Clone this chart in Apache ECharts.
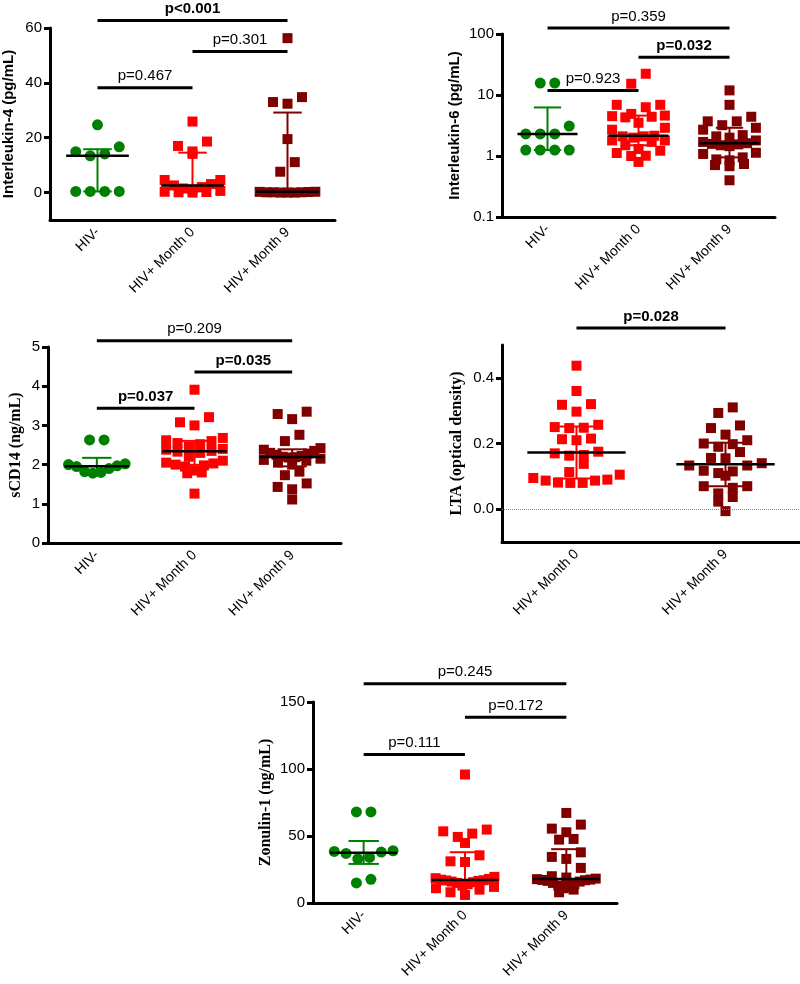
<!DOCTYPE html>
<html><head><meta charset="utf-8">
<script src="https://cdn.jsdelivr.net/npm/echarts@6/dist/echarts.min.js"></script>
<style>html,body{margin:0;padding:0;background:#fff}#c{width:800px;height:984px}</style>
</head><body><div id="c"></div>
<script>
// ---------- categories ----------
const groups3 = ['HIV-', 'HIV+ Month 0', 'HIV+ Month 9'];
const groups2 = ['HIV+ Month 0', 'HIV+ Month 9'];

// ---------- Interleukin-4 (pg/mL) ----------
const il4HivNeg = [24.7, 16.7, 13.4, 14.1, 14.9, 0.4, 0.4, 0.4, 0.4];
const il4Month0 = [25.9, 18.6, 17.0, 15.0, 14.1, 4.6, 4.6, 3.1, 2.6, 2.0, 1.5, 1.0, 0.6, 0.3, 0.2, 0.1, 0.0];
const il4Month9 = [56.3, 34.8, 33.0, 32.4, 19.5, 11.1, 7.6, 0.3, 0.25, 0.2, 0.1, 0.1, 0.1, 0.0, 0.0, 0.0];
const il4Ticks = [0, 20, 40, 60];
const il4Brackets = [[0, 2, 62.7, 'p<0.001', true], [1, 2, 51.4, 'p=0.301', false], [0, 1, 38.2, 'p=0.467', false]];

// ---------- Interleukin-6 (pg/mL) ----------
const il6HivNeg = [15.7, 15.7, 3.1, 2.3, 2.3, 2.3, 1.25, 1.25, 1.25, 1.25];
const il6Month0 = [22.3, 15.3, 6.9, 6.9, 6.3, 4.9, 4.6, 4.5, 4.4, 4.3, 3.5, 2.9, 2.7, 2.15, 2.1, 2.1, 2.0, 1.8, 1.8, 1.7, 1.5, 1.3, 1.22, 1.12, 1.01, 1.0, 0.8];
const il6Month9 = [11.9, 6.9, 4.4, 3.7, 3.7, 3.2, 2.9, 2.7, 2.2, 2.1, 2.0, 1.8, 1.7, 1.62, 1.58, 1.55, 1.5, 1.45, 1.13, 1.08, 0.95, 0.88, 0.85, 0.74, 0.71, 0.68, 0.40];
const il6Brackets = [[0, 2, 126, 'p=0.359', false], [1, 2, 41.5, 'p=0.032', true], [0, 1, 11.8, 'p=0.923', false]];

// ---------- sCD14 (ng/mL) ----------
const scdHivNeg = [2.63, 2.63, 2.02, 2.0, 1.97, 1.95, 1.9, 1.82, 1.8, 1.78];
const scdMonth0 = [3.91, 3.21, 3.08, 3.0, 2.68, 2.62, 2.6, 2.55, 2.52, 2.45, 2.4, 2.38, 2.35, 2.33, 2.3, 2.2, 2.1, 2.05, 2.03, 2.0, 1.98, 1.95, 1.85, 1.8, 1.78, 1.26];
const scdMonth9 = [3.35, 3.29, 3.16, 2.76, 2.6, 2.42, 2.38, 2.35, 2.3, 2.28, 2.25, 2.22, 2.2, 2.19, 2.18, 2.15, 2.12, 2.1, 2.05, 2.0, 1.82, 1.73, 1.52, 1.43, 1.37, 1.11];
const scdBrackets = [[0, 2, 5.16, 'p=0.209', false], [1, 2, 4.36, 'p=0.035', true], [0, 1, 3.44, 'p=0.037', true]];

// ---------- LTA (optical density) ----------
const ltaMonth0 = [0.437, 0.36, 0.32, 0.318, 0.297, 0.257, 0.25, 0.248, 0.247, 0.215, 0.213, 0.21, 0.175, 0.17, 0.165, 0.163, 0.138, 0.113, 0.105, 0.095, 0.09, 0.087, 0.087, 0.081, 0.08, 0.08];
const ltaMonth9 = [0.31, 0.293, 0.255, 0.247, 0.227, 0.21, 0.2, 0.198, 0.19, 0.174, 0.156, 0.155, 0.14, 0.133, 0.133, 0.117, 0.115, 0.11, 0.102, 0.07, 0.07, 0.065, 0.048, 0.037, 0.023, -0.006];
const ltaTicks = [0, 0.2, 0.4];
const ltaBrackets = [[0, 1, 0.5515, 'p=0.028', true]];

// ---------- Zonulin-1 (ng/mL) ----------
const zonHivNeg = [68, 68, 39, 38.5, 38, 37, 34, 33, 17.7, 15];
const zonMonth0 = [95.9, 54.8, 53.5, 51.8, 49.3, 44.8, 35.6, 31.1, 30.6, 19.5, 18.5, 18, 17.4, 17, 16.8, 16.5, 16, 15.5, 15, 14, 13, 12, 11, 10, 8, 6];
const zonMonth9 = [67.2, 58.5, 55.5, 52.8, 47.8, 47.3, 37.8, 34.4, 32.9, 26.2, 20, 19, 18.2, 17.8, 17.5, 17.2, 17, 16.5, 16, 15, 14, 13, 12, 11, 10, 8];
const zonBrackets = [[0, 2, 163.7, 'p=0.245', false], [1, 2, 138.7, 'p=0.172', false], [0, 1, 110.8, 'p=0.111', false]];

// ---------- styles ----------
const SANS = '"Liberation Sans", Arial, Helvetica, sans-serif';
const SERIF = '"Liberation Serif", "Times New Roman", serif';
const GREEN = '#008000', RED = '#ff0000', DARK = '#800000';

const panels = [
  { grid: {left: 47, top: 28, width: 288, height: 192}, cats: groups3, sets: [il4HivNeg, il4Month0, il4Month9],
    colors: [GREEN, RED, DARK], symbols: ['circle', 'rect', 'rect'],
    y: {type: 'value', min: -10, max: 60, custom: il4Ticks}, name: 'Interleukin-4 (pg/mL)', nameFont: SANS, nameSize: 15, nameGap: 34, brackets: il4Brackets },
  { grid: {left: 502, top: 34, width: 273, height: 183}, cats: groups3, sets: [il6HivNeg, il6Month0, il6Month9],
    colors: [GREEN, RED, DARK], symbols: ['circle', 'rect', 'rect'],
    y: {type: 'log', min: 0.1, max: 100}, name: 'Interleukin-6 (pg/mL)', nameFont: SANS, nameSize: 15, nameGap: 40, brackets: il6Brackets },
  { grid: {left: 48, top: 347, width: 293, height: 196}, cats: groups3, sets: [scdHivNeg, scdMonth0, scdMonth9],
    colors: [GREEN, RED, DARK], symbols: ['circle', 'rect', 'rect'],
    y: {type: 'value', min: 0, max: 5, interval: 1}, name: 'sCD14 (ng/mL)', nameFont: SERIF, nameSize: 16, nameGap: 24, brackets: scdBrackets },
  { grid: {left: 502, top: 345, width: 298, height: 197}, cats: groups2, sets: [ltaMonth0, ltaMonth9],
    colors: [RED, DARK], symbols: ['rect', 'rect'],
    y: {type: 'value', min: -0.1, max: 0.5, custom: ltaTicks, fmt: v => v.toFixed(1)}, name: 'LTA (optical density)', nameFont: SERIF, nameSize: 16, nameGap: 37, brackets: ltaBrackets, zeroLine: true },
  { grid: {left: 313, top: 702, width: 304, height: 201}, cats: groups3, sets: [zonHivNeg, zonMonth0, zonMonth9],
    colors: [GREEN, RED, DARK], symbols: ['circle', 'rect', 'rect'],
    y: {type: 'value', min: 0, max: 150, interval: 50}, name: 'Zonulin-1 (ng/mL)', nameFont: SERIF, nameSize: 16, nameGap: 39, brackets: zonBrackets }
];

function quant(sorted, p) {
  const n = sorted.length, pos = p * (n + 1);
  if (pos <= 1) return sorted[0];
  if (pos >= n) return sorted[n - 1];
  const lo = Math.floor(pos), f = pos - lo;
  return sorted[lo - 1] + f * (sorted[lo] - sorted[lo - 1]);
}

const chart = echarts.init(document.getElementById('c'), null, {renderer: 'canvas'});
const axisLineStyle = {color: '#000', width: 3};

const grids = [], xAxes = [], yAxes = [], series = [];
const scatterRefs = [];
panels.forEach((p, i) => {
  grids.push(Object.assign({containLabel: false}, p.grid));
  xAxes.push({
    gridIndex: i, type: 'category', data: p.cats, boundaryGap: true,
    axisLine: {onZero: false, lineStyle: axisLineStyle},
    axisTick: {alignWithLabel: true, length: 6, lineStyle: {color: '#000', width: 3}},
    axisLabel: {rotate: 45, interval: 0, fontSize: 14, color: '#000', fontFamily: SANS, margin: 10},
    splitLine: {show: false}
  });
  const ya = {
    gridIndex: i, type: p.y.type, min: p.y.min, max: p.y.max,
    name: p.name, nameLocation: 'middle', nameGap: p.nameGap,
    nameTextStyle: {fontFamily: p.nameFont, fontWeight: 'bold', fontSize: p.nameSize, color: '#000'},
    axisLine: {show: true, onZero: false, lineStyle: axisLineStyle},
    axisTick: {show: true, length: 6, lineStyle: {color: '#000', width: 3}},
    axisLabel: {fontSize: 15, color: '#000', fontFamily: SANS, margin: 8},
    splitLine: {show: false}
  };
  if (p.y.type === 'log') ya.logBase = 10;
  if (p.y.interval) ya.interval = p.y.interval;
  if (p.y.custom) { ya.axisTick.customValues = p.y.custom; ya.axisLabel.customValues = p.y.custom; }
  if (p.y.fmt) ya.axisLabel.formatter = p.y.fmt;
  yAxes.push(ya);

  scatterRefs[i] = [];
  p.sets.forEach((vals, g) => {
    const s = {
      type: 'scatter', xAxisIndex: i, yAxisIndex: i, silent: true, z: 2,
      symbol: p.symbols[g], symbolSize: p.symbols[g] === 'circle' ? 11 : 10,
      itemStyle: {color: p.colors[g], opacity: 1},
      data: vals.map(v => [g, v])
    };
    if (p.zeroLine && g === 0) {
      s.markLine = {silent: true, symbol: 'none', label: {show: false},
        lineStyle: {type: 'dotted', color: '#888', width: 1}, data: [{yAxis: 0}]};
    }
    scatterRefs[i][g] = s;
    series.push(s);
  });

  // median + interquartile range
  const stats = p.sets.map((vals, g) => {
    const s = vals.slice().sort((a, b) => a - b);
    return [g, quant(s, 0.5), quant(s, 0.25), quant(s, 0.75)];
  });
  const nc = p.cats.length;
  series.push({
    type: 'custom', xAxisIndex: i, yAxisIndex: i, silent: true, z: 3,
    encode: {x: 0, y: 1}, data: stats,
    renderItem: (params, api) => {
      const x = api.value(0);
      const med = api.coord([x, api.value(1)]);
      const lo = api.coord([x, api.value(2)]);
      const hi = api.coord([x, api.value(3)]);
      const bw = params.coordSys.width / nc;
      const col = p.colors[params.dataIndex];
      const cap = 0.15 * bw, mh = 0.33 * bw;
      return {type: 'group', children: [
        {type: 'line', shape: {x1: med[0], y1: lo[1], x2: med[0], y2: hi[1]}, style: {stroke: col, lineWidth: 2}},
        {type: 'line', shape: {x1: med[0] - cap, y1: hi[1], x2: med[0] + cap, y2: hi[1]}, style: {stroke: col, lineWidth: 2}},
        {type: 'line', shape: {x1: med[0] - cap, y1: lo[1], x2: med[0] + cap, y2: lo[1]}, style: {stroke: col, lineWidth: 2}},
        {type: 'line', shape: {x1: med[0] - mh, y1: med[1], x2: med[0] + mh, y2: med[1]}, style: {stroke: '#000', lineWidth: 2.5}}
      ]};
    }
  });

  // significance brackets
  series.push({
    type: 'custom', xAxisIndex: i, yAxisIndex: i, silent: true, z: 4, clip: false,
    encode: {x: 0, y: 2}, data: p.brackets.map(b => [b[0], b[1], b[2]]),
    renderItem: (params, api) => {
      const b = p.brackets[params.dataIndex];
      const p1 = api.coord([api.value(0), api.value(2)]);
      const p2 = api.coord([api.value(1), api.value(2)]);
      return {type: 'group', children: [
        {type: 'line', shape: {x1: p1[0], y1: p1[1], x2: p2[0], y2: p2[1]}, style: {stroke: '#000', lineWidth: 3}},
        {type: 'text', style: {text: b[3], x: (p1[0] + p2[0]) / 2, y: p1[1] - 4, align: 'center', verticalAlign: 'bottom',
          fill: '#000', font: (b[4] ? 'bold ' : '') + '15px ' + SANS}}
      ]};
    }
  });
});

const option = {animation: false, backgroundColor: '#fff', grid: grids, xAxis: xAxes, yAxis: yAxes, series: series};
chart.setOption(option);

// beeswarm spreading (deterministic, from values through the axis scale)
function swarm(gi, g, vals, bw, size) {
  const py = vals.map(v => chart.convertToPixel({gridIndex: gi}, [g, v])[1]);
  const order = vals.map((v, k) => k).sort((a, b) => py[a] - py[b]);
  const off = new Array(vals.length).fill(0);
  const maxHalf = 0.29 * bw, step = 14.5;
  const place = row => {
    const n = row.length;
    if (!n) return;
    const s = n > 1 ? Math.min(step, 2 * maxHalf / (n - 1)) : 0;
    const slots = [];
    for (let k = 0; k < n; k++) slots.push((k - (n - 1) / 2) * s);
    slots.sort((a, b) => Math.abs(a) - Math.abs(b) || a - b);
    const r = row.slice().sort((a, b) => py[b] - py[a]);
    r.forEach((idx, k) => { off[idx] = slots[k]; });
  };
  let row = [];
  order.forEach(k => {
    if (row.length && py[k] - py[row[0]] >= size) { place(row); row = []; }
    row.push(k);
  });
  place(row);
  return off;
}
panels.forEach((p, i) => {
  const bw = p.grid.width / p.cats.length;
  p.sets.forEach((vals, g) => {
    const size = p.symbols[g] === 'circle' ? 11 : 10;
    const off = swarm(i, g, vals, bw, size);
    scatterRefs[i][g].data = vals.map((v, k) => ({value: [g, v], symbolOffset: [off[k], 0]}));
  });
});
chart.setOption(option, true);
</script>
</body></html>
